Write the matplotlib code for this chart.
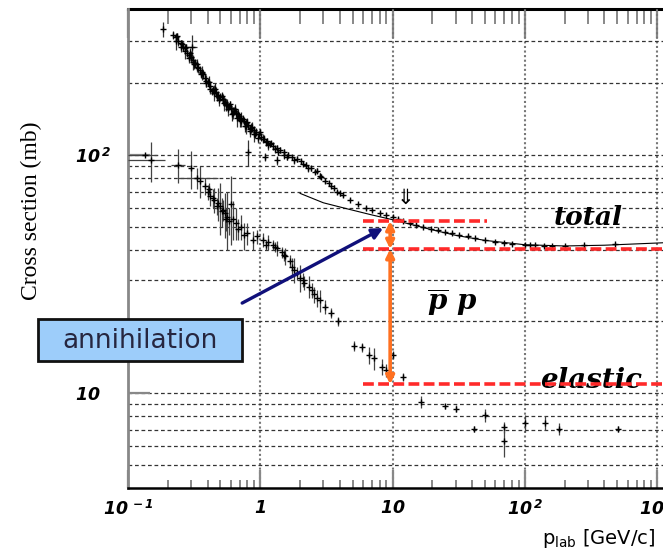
import matplotlib
matplotlib.use('Agg')
import matplotlib.pyplot as plt
from matplotlib.patches import Rectangle

plt.rcParams['mathtext.fontset'] = 'custom'
plt.rcParams['mathtext.rm'] = 'DejaVu Sans:italic:bold'
plt.rcParams['mathtext.it'] = 'DejaVu Serif:italic:bold'
plt.rcParams['mathtext.sf'] = 'DejaVu Sans'

# total cross section (p_lab in GeV/c, sigma in mb, error in mb)
tot_p = [0.22, 0.23, 0.24, 0.25, 0.26, 0.27, 0.28, 0.29, 0.30, 0.31, 0.32, 0.34,
         0.35, 0.36, 0.38, 0.40, 0.42, 0.44, 0.46, 0.48, 0.50, 0.52, 0.54, 0.56,
         0.58, 0.60, 0.63, 0.66, 0.69, 0.72, 0.75, 0.78, 0.81, 0.85, 0.89, 0.93,
         0.97, 1.02, 1.07, 1.12, 1.18, 1.25, 1.33, 1.42, 1.52, 1.63, 1.75, 1.9,
         2.05, 2.2, 2.4, 2.6, 2.85, 3.1, 3.4, 3.8, 4.2, 4.8, 5.5, 6.3, 7.0, 8.0,
         9.0, 10.0, 11, 12, 13.5, 15, 17, 19.5, 22, 25, 28, 32, 37, 42, 50, 60,
         70, 80, 100, 110, 120, 140, 160, 200, 280, 480]
tot_s = [318, 312, 300, 296, 285, 280, 268, 262, 258, 250, 244, 232,
         228, 220, 210, 202, 195, 188, 183, 178, 175, 171, 167, 163,
         160, 157, 153, 150, 146, 143, 139, 136, 133, 130, 127, 125,
         122, 119, 117, 114, 111, 109, 107, 105, 103, 100, 98, 96,
         94, 91, 88, 85, 82, 78, 74, 70, 68, 65, 62, 60, 58.5, 57,
         56, 55, 54, 53, 52, 51, 50, 49, 48.3, 47.5, 47, 46, 45.5, 45, 44, 43,
         42.8, 42.5, 42, 42, 41.7, 41.5, 41.6, 41.5, 41.8, 42.5]
tot_e = [12, 10, 14, 9, 12, 10, 11, 9, 14, 10, 9, 12,
         8, 10, 9, 8, 10, 7, 9, 8, 7, 9, 7, 8,
         6, 7, 6, 7, 6, 8, 5, 6, 5, 6, 5, 5,
         4, 5, 4, 4, 3, 4, 3, 3, 3, 3, 2, 3,
         2, 2, 2, 2, 2, 2, 1.5, 1.5, 1.5, 1, 1, 1, 1, 0.8,
         0.8, 0.8, 0.7, 0.7, 0.6, 0.6, 0.6, 0.5, 0.5, 0.5, 0.5, 0.5, 0.5, 0.4, 0.4, 0.4,
         0.4, 0.4, 0.4, 0.4, 0.4, 0.4, 0.4, 0.4, 0.4, 0.4]
# second and third sets of total points, scattered around the band
tot2_p = [0.23, 0.25, 0.27, 0.29, 0.31, 0.33, 0.36, 0.39, 0.42, 0.45, 0.49, 0.53,
          0.57, 0.62, 0.67, 0.72, 0.78, 0.84, 0.9, 0.96, 1.05, 1.15, 1.3, 1.5,
          1.8, 2.3, 2.9, 3.6]
tot2_s = [300, 285, 272, 255, 246, 233, 222, 205, 190, 182, 170, 165,
          156, 150, 143, 139, 132, 126, 122, 118, 117, 110, 106, 100,
          95, 88, 81, 73]
tot2_e = [25, 15, 20, 12, 18, 10, 15, 12, 10, 14, 9, 12,
          10, 9, 12, 8, 10, 7, 9, 6, 5, 5, 4, 4,
          3, 3, 2, 2]
tot3_p = [0.235, 0.255, 0.275, 0.295, 0.315, 0.335, 0.355, 0.37, 0.39, 0.41, 0.43,
          0.455, 0.47, 0.51, 0.55, 0.59, 0.615, 0.645, 0.68, 0.7, 0.74, 0.77, 0.8,
          0.83, 0.87, 0.91, 0.99, 1.1, 1.2, 1.37, 1.58, 2.1, 2.7, 3.3, 4.0]
tot3_s = [315, 292, 283, 268, 240, 240, 218, 218, 200, 203, 185,
          190, 176, 176, 162, 163, 149, 156, 148, 140, 142, 132, 137,
          128, 131, 122, 125, 113, 112, 103, 98, 92, 86, 76, 69]
tot3_e = [10, 12, 8, 14, 10, 12, 8, 10, 8, 12, 6,
          10, 7, 8, 9, 6, 10, 7, 8, 9, 5, 7, 6,
          5, 6, 4, 4, 4, 3, 3, 3, 2, 2, 2, 1.5]
# isolated total points with large errors
out_p = [0.184, 0.305, 0.81, 1.09, 1.35]
out_s = [338, 284, 103, 98, 95]
out_e = [25, 35, 13, 4, 4]
out_xlo = [0.0, 0.025, 0.0, 0.0, 0.0]
out_xhi = [0.0, 0.03, 0.0, 0.0, 0.0]

# smooth fit through total cross section
fit_p = [2.0, 3.0, 4.5, 7, 10, 15, 20, 30, 50, 100, 200, 400, 1110]
fit_s = [69, 63, 59.5, 56, 53.5, 50.5, 48.5, 46, 43.8, 42, 41.5, 41.8, 42.8]

# elastic cross section
el_p = [0.135, 0.15, 0.24, 0.30, 0.33, 0.35, 0.38, 0.40, 0.42, 0.45, 0.48, 0.50,
        0.52, 0.54, 0.56, 0.58, 0.60, 0.65, 0.72, 0.75, 0.80, 0.88, 0.95, 1.05,
        1.15, 1.25, 1.35, 1.45, 1.55, 1.68, 1.8, 1.9, 2.0, 2.15, 2.33, 2.55,
        2.85, 3.1, 3.4, 3.9, 5.1, 5.9, 6.6, 7.2, 8.4, 9.0, 10.0, 12, 16.3,
        25, 30, 41, 50, 70, 70, 100, 143, 180, 505]
el_s = [100, 95, 91, 88, 80, 78, 74, 70, 67, 65, 63, 61,
        59, 57, 55, 53, 62, 52, 50, 46, 47, 44, 45.5, 44,
        43, 42, 40.5, 39, 37.5, 36, 33, 32, 30.5, 29, 28, 26,
        24.5, 23, 21.7, 20, 15.8, 15.6, 14.5, 14, 12.9, 12.5, 14.5, 11.7, 9.2,
        8.8, 8.6, 7.1, 8.1, 7.2, 6.3, 7.5, 7.5, 7.1, 7.1]
el_e = [0, 18, 15, 16, 8, 12, 6, 5, 6, 8, 10, 15,
        6, 12, 15, 7, 20, 8, 6, 6, 5, 4, 3, 3,
        3, 2, 3, 2, 3, 2, 4, 2, 4, 2, 3, 2,
        2.5, 1.5, 1, 0.8, 0.7, 0.7, 1.2, 1.5, 1, 0.8, 0.6, 0.5, 0.5,
        0.2, 0.3, 0.2, 0.5, 0.4, 0.9, 0.6, 0.5, 0.4, 0.2]
el_xlo = [0.035, 0.05, 0.03, 0.0, 0.09, 0.0, 0.0, 0.0, 0.0, 0.0, 0.0, 0.0] + [0.0] * 47
el_xhi = [0.03, 0.04, 0.03, 0.0, 0.15, 0.0, 0.0, 0.0, 0.0, 0.0, 0.0, 0.0] + [0.0] * 47
el2_p = [0.41, 0.44, 0.47, 0.51, 0.55, 0.62, 0.68, 1.1, 1.3, 1.5, 1.75, 2.1, 2.45, 2.7]
el2_s = [72, 66, 61, 58, 54, 54, 49, 42, 41, 38, 34, 30, 27, 25]
el2_e = [4, 6, 5, 8, 6, 10, 5, 2, 2, 2, 3, 2, 2, 2]

# guide levels (mb) drawn in red, and the arrow position
lvl_total = 52.8
lvl_mid = 40.3
lvl_elastic = 10.9
lvl_start = 6.0
arrow_p = 9.6

fig = plt.figure(figsize=(6.63, 5.49), dpi=100)
ax = fig.add_axes([128 / 663, 1 - 488 / 549, 535 / 663, 479 / 549])
ax.set_xscale('log')
ax.set_yscale('log')
ax.set_xlim(0.1, 1110)
ax.set_ylim(4, 410)

ax.set_xticks([0.1, 1, 10, 100, 1000])
ax.set_xticklabels([r'$10^{\,-1}$', r'$1$', r'$10$', r'$10^{\,2}$', r'$10^{\,3}$'], fontsize=12.5)
xminor = [m * d for d in [0.1, 1, 10, 100] for m in range(2, 10)]
ax.set_xticks(xminor, minor=True)
ax.set_yticks([10, 100])
ax.set_yticklabels([r'$10$', r'$10^{\,2}$'], fontsize=12.5)
ax.set_yticks([5, 6, 7, 8, 9, 20, 30, 40, 50, 60, 70, 80, 90, 200, 300], minor=True)
ax.yaxis.set_minor_formatter(plt.NullFormatter())
ax.xaxis.set_minor_formatter(plt.NullFormatter())

ax.tick_params(axis='x', which='major', direction='in', length=13, width=1.6,
               color='#888888', pad=8)
ax.tick_params(axis='x', which='minor', direction='in', length=6, width=1.4,
               color='#888888')
ax.tick_params(axis='y', which='major', direction='in', length=16, width=1.6,
               color='#888888', pad=38)
ax.tick_params(axis='y', which='minor', direction='in', length=0)
for lab in ax.get_yticklabels():
    lab.set_horizontalalignment('left')

top = ax.secondary_xaxis('top')
top.set_xticks([0.1, 1, 10, 100, 1000])
top.set_xticks(xminor, minor=True)
top.xaxis.set_minor_formatter(plt.NullFormatter())
top.tick_params(which='major', direction='in', length=21, width=1.6, color='#888888',
                labeltop=False)
top.tick_params(which='minor', direction='in', length=11, width=1.4, color='#888888')
top.spines['top'].set_linewidth(2.2)
top.spines['top'].set_color('black')

ax.spines['right'].set_visible(False)
ax.spines['top'].set_visible(False)
ax.spines['left'].set_color('#888888')
ax.spines['left'].set_linewidth(2.0)
ax.spines['bottom'].set_color('black')
ax.spines['bottom'].set_linewidth(1.8)

ax.set_axisbelow(True)
ax.grid(axis='y', which='both', color='#333333', linewidth=0.9, linestyle=(0, (3, 2.2)))
ax.grid(axis='x', which='major', color='#777777', linewidth=1.5, linestyle=(0, (1, 1.2)))

# data
pt_kw = dict(fmt='+', ms=4, mew=1.0, color='black', elinewidth=0.9, capsize=0, zorder=3)
ax.errorbar(tot_p, tot_s, yerr=tot_e, ecolor='#222222', **pt_kw)
ax.errorbar(tot2_p, tot2_s, yerr=tot2_e, ecolor='#333333', **pt_kw)
ax.errorbar(tot3_p, tot3_s, yerr=tot3_e, ecolor='#222222', **pt_kw)
ax.errorbar(out_p, out_s, yerr=out_e, xerr=[out_xlo, out_xhi], ecolor='#333333', **pt_kw)
ax.plot(fit_p, fit_s, color='black', lw=0.8, zorder=3)
ax.errorbar(el_p, el_s, yerr=el_e, xerr=[el_xlo, el_xhi], ecolor='#444444', **pt_kw)
ax.errorbar(el2_p, el2_s, yerr=el2_e, ecolor='#444444', **pt_kw)

# red guide lines
red_kw = dict(color='#ff2a2a', lw=2.6, linestyle=(0, (3, 1.2)), clip_on=False, zorder=4)
ax.plot([lvl_start, 52], [lvl_total, lvl_total], **red_kw)
ax.plot([lvl_start, 1250], [lvl_mid, lvl_mid], **red_kw)
ax.plot([lvl_start, 1250], [lvl_elastic, lvl_elastic], **red_kw)

# orange double arrows
org = '#ff7020'
ax.annotate('', xy=(arrow_p, lvl_total), xytext=(arrow_p, lvl_mid),
            arrowprops=dict(arrowstyle='<|-|>', color=org, lw=2.6,
                            mutation_scale=12, shrinkA=0, shrinkB=0), zorder=5)
ax.annotate('', xy=(arrow_p, lvl_mid), xytext=(arrow_p, lvl_elastic),
            arrowprops=dict(arrowstyle='<|-|>', color=org, lw=2.6,
                            mutation_scale=12, shrinkA=0, shrinkB=0), zorder=5)

# blue arrow from the annihilation box
ax.annotate('', xy=(8.5, 49.3), xytext=(0.73, 23.9),
            arrowprops=dict(arrowstyle='-|>', color='#10107a', lw=2.4,
                            mutation_scale=16, shrinkA=0, shrinkB=0), zorder=5)

ax.text(300, 54.9, 'total', fontsize=19, family='DejaVu Serif', style='italic',
        weight='bold', ha='center', va='center', zorder=6)
ax.text(317, 11.3, 'elastic', fontsize=20, family='DejaVu Serif', style='italic',
        weight='bold', ha='center', va='center', zorder=3)
ax.text(28, 24.1, r'$\overline{p}\ p$', fontsize=20, ha='center', va='center', zorder=6)
ax.text(12.6, 65.9, '\u21d3', fontsize=15, family='DejaVu Sans', ha='center',
        va='center', zorder=6)

# annihilation box
fig.patches.append(Rectangle((38 / 663, 1 - 361 / 549), 204 / 663, 42 / 549,
                             transform=fig.transFigure, facecolor='#9dcdfa',
                             edgecolor='#111111', lw=2.0, zorder=10))
fig.text(140 / 663, 1 - 341 / 549, 'annihilation', fontsize=19, family='DejaVu Sans',
         color='#262640', ha='center', va='center', zorder=11)

fig.text(31 / 663, 1 - 211 / 549, 'Cross section (mb)', rotation=90, fontsize=17,
         family='Liberation Serif', ha='center', va='center')
fig.text(655 / 663, 1 - 539 / 549, r'$\mathsf{p}_{\mathsf{lab}}$ [GeV/c]', fontsize=14,
         family='DejaVu Sans', ha='right', va='center')

fig.savefig('out.png', dpi=100)
